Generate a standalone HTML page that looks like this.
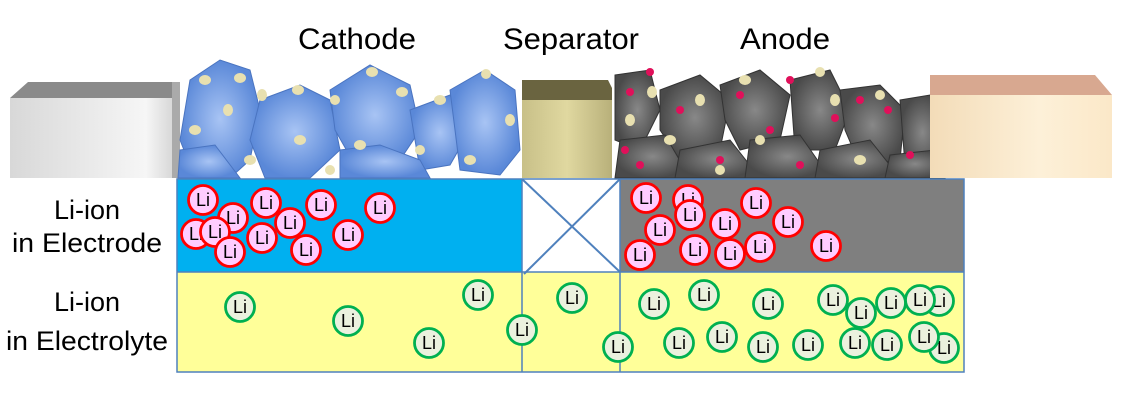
<!DOCTYPE html>
<html><head><meta charset="utf-8"><style>
html,body{margin:0;padding:0;background:#fff;}
svg{display:block;}
text{font-family:"Liberation Sans",sans-serif;}
</style></head><body>
<svg width="1122" height="402" viewBox="0 0 1122 402" xmlns="http://www.w3.org/2000/svg">
<defs>
<linearGradient id="gr" x1="0" x2="1"><stop offset="0" stop-color="#d8d8d8"/><stop offset="0.8" stop-color="#f6f6f6"/><stop offset="1" stop-color="#cfcfcf"/></linearGradient>
<linearGradient id="cu" x1="0" x2="1"><stop offset="0" stop-color="#f3dcb8"/><stop offset="0.6" stop-color="#fdf0d8"/><stop offset="1" stop-color="#fbe8c8"/></linearGradient>
<linearGradient id="sep" x1="0" x2="1"><stop offset="0" stop-color="#c8c088"/><stop offset="0.5" stop-color="#e0d8a0"/><stop offset="1" stop-color="#b8b07a"/></linearGradient>
<radialGradient id="bl"><stop offset="0" stop-color="#a8c4f4"/><stop offset="1" stop-color="#5a88d8"/></radialGradient>
<radialGradient id="dk"><stop offset="0" stop-color="#888"/><stop offset="1" stop-color="#4a4a4a"/></radialGradient>
</defs>
<text x="298" y="49" font-size="30" textLength="118" lengthAdjust="spacingAndGlyphs">Cathode</text>
<text x="503" y="49" font-size="30" textLength="136" lengthAdjust="spacingAndGlyphs">Separator</text>
<text x="740" y="49" font-size="30" textLength="90" lengthAdjust="spacingAndGlyphs">Anode</text>
<!-- gray current collector -->
<polygon points="10,98 28,82 180,82 180,98" fill="#8a8a8a"/>
<rect x="10" y="98" width="170" height="80" fill="url(#gr)"/>
<rect x="172" y="82" width="8" height="96" fill="#aaa"/>
<!-- cathode particles -->
<g fill="url(#bl)" stroke="#4a74c0" stroke-width="1">
<polygon points="190,80 220,60 250,70 260,110 250,160 230,178 195,178 180,140"/>
<polygon points="260,100 300,85 330,100 340,150 310,178 265,178 250,140"/>
<polygon points="330,90 370,65 410,85 420,130 400,160 355,165 335,130"/>
<polygon points="410,110 450,95 470,130 450,165 420,170"/>
<polygon points="450,90 485,70 515,90 520,150 500,175 460,170"/>
<polygon points="340,150 380,145 420,160 430,178 340,178"/>
<polygon points="180,150 215,145 240,178 178,178"/>
</g>
<g fill="#e8e0b0">
<ellipse cx="205" cy="80" rx="6" ry="5"/><ellipse cx="240" cy="78" rx="6" ry="5"/><ellipse cx="262" cy="95" rx="5" ry="6"/><ellipse cx="228" cy="110" rx="5" ry="6"/><ellipse cx="298" cy="90" rx="6" ry="5"/><ellipse cx="335" cy="100" rx="5" ry="5"/><ellipse cx="372" cy="72" rx="6" ry="5"/><ellipse cx="402" cy="92" rx="6" ry="5"/><ellipse cx="440" cy="100" rx="6" ry="5"/><ellipse cx="486" cy="74" rx="5" ry="5"/><ellipse cx="510" cy="120" rx="5" ry="6"/><ellipse cx="195" cy="130" rx="6" ry="5"/><ellipse cx="300" cy="140" rx="6" ry="5"/><ellipse cx="360" cy="145" rx="6" ry="5"/><ellipse cx="420" cy="150" rx="5" ry="5"/><ellipse cx="470" cy="160" rx="6" ry="5"/><ellipse cx="250" cy="160" rx="6" ry="5"/><ellipse cx="330" cy="170" rx="5" ry="5"/>
</g>
<!-- separator -->
<polygon points="522,80 608,80 612,88 612,100 522,100" fill="#6a6440"/>
<rect x="522" y="100" width="90" height="78" fill="url(#sep)"/>
<!-- anode -->
<rect x="612" y="70" width="330" height="108" fill="#fff"/>
<g fill="url(#dk)" stroke="#333" stroke-width="1">
<polygon points="615,75 650,70 660,110 640,150 615,140"/>
<polygon points="660,90 700,75 730,100 720,150 680,160 660,130"/>
<polygon points="720,85 760,70 790,95 780,140 740,150 725,120"/>
<polygon points="790,80 830,70 850,110 835,150 795,150"/>
<polygon points="840,90 880,85 905,110 900,160 860,165 845,130"/>
<polygon points="900,100 930,95 945,130 930,170 905,165"/>
<polygon points="620,140 665,135 690,178 615,178"/>
<polygon points="680,150 730,140 760,178 675,178"/>
<polygon points="750,140 800,135 830,178 745,178"/>
<polygon points="820,150 870,140 900,178 815,178"/>
<polygon points="890,155 935,150 945,178 885,178"/>
</g>
<g fill="#e8e0b0">
<ellipse cx="652" cy="92" rx="5" ry="6"/><ellipse cx="700" cy="100" rx="5" ry="6"/><ellipse cx="745" cy="80" rx="6" ry="5"/><ellipse cx="820" cy="72" rx="5" ry="5"/><ellipse cx="835" cy="100" rx="5" ry="6"/><ellipse cx="880" cy="95" rx="5" ry="5"/><ellipse cx="945" cy="130" rx="5" ry="6"/><ellipse cx="670" cy="140" rx="6" ry="5"/><ellipse cx="760" cy="140" rx="5" ry="5"/><ellipse cx="860" cy="160" rx="6" ry="5"/><ellipse cx="720" cy="170" rx="5" ry="5"/><ellipse cx="630" cy="120" rx="5" ry="6"/>
</g>
<g fill="#e0105a">
<circle cx="650" cy="72" r="4"/><circle cx="630" cy="92" r="4"/><circle cx="740" cy="95" r="4"/><circle cx="790" cy="80" r="4"/><circle cx="835" cy="118" r="4"/><circle cx="888" cy="110" r="4"/><circle cx="640" cy="165" r="4"/><circle cx="680" cy="110" r="4"/><circle cx="720" cy="160" r="4"/><circle cx="800" cy="165" r="4"/><circle cx="860" cy="100" r="4"/><circle cx="910" cy="155" r="4"/><circle cx="625" cy="150" r="4"/><circle cx="770" cy="130" r="4"/>
</g>
<!-- copper -->
<polygon points="930,75 1095,75 1112,95 930,95" fill="#d8a890"/>
<rect x="930" y="95" width="182" height="83" fill="url(#cu)"/>
<!-- table -->
<rect x="177" y="179" width="345" height="93" fill="#00b0f0"/>
<rect x="522" y="179" width="98" height="93" fill="#fff"/>
<rect x="620" y="179" width="344" height="93" fill="#7f7f7f"/>
<rect x="177" y="272" width="787" height="100" fill="#ffff99"/>
<g stroke="#4f81bd" stroke-width="1.5" fill="none">
<rect x="177" y="179" width="787" height="193"/>
<line x1="177" y1="272" x2="964" y2="272"/>
<line x1="522" y1="179" x2="522" y2="372"/>
<line x1="620" y1="179" x2="620" y2="372"/>
<line x1="522" y1="179" x2="620" y2="272" stroke-width="2"/>
<line x1="620" y1="179" x2="524" y2="274" stroke-width="2"/>
</g>
<text x="87" y="219" font-size="27" text-anchor="middle">Li-ion</text>
<text x="87" y="252" font-size="27" text-anchor="middle" textLength="150" lengthAdjust="spacingAndGlyphs">in Electrode</text>
<text x="87" y="311" font-size="27" text-anchor="middle">Li-ion</text>
<text x="87" y="350" font-size="27" text-anchor="middle" textLength="162" lengthAdjust="spacingAndGlyphs">in Electrolyte</text>
<g fill="#ffccff" stroke="#ff0000" stroke-width="2.8" font-size="18" text-anchor="middle">
<g><circle cx="233" cy="218" r="14.5"/><text x="233" y="224" fill="#000" stroke="none">Li</text></g>
<g><circle cx="196" cy="234" r="14.5"/><text x="196" y="240" fill="#000" stroke="none">Li</text></g>
<g><circle cx="203" cy="200" r="14.5"/><text x="203" y="206" fill="#000" stroke="none">Li</text></g>
<g><circle cx="215" cy="232" r="14.5"/><text x="215" y="238" fill="#000" stroke="none">Li</text></g>
<g><circle cx="230" cy="252" r="14.5"/><text x="230" y="258" fill="#000" stroke="none">Li</text></g>
<g><circle cx="266" cy="203" r="14.5"/><text x="266" y="209" fill="#000" stroke="none">Li</text></g>
<g><circle cx="290" cy="223" r="14.5"/><text x="290" y="229" fill="#000" stroke="none">Li</text></g>
<g><circle cx="262" cy="238" r="14.5"/><text x="262" y="244" fill="#000" stroke="none">Li</text></g>
<g><circle cx="321" cy="205" r="14.5"/><text x="321" y="211" fill="#000" stroke="none">Li</text></g>
<g><circle cx="306" cy="250" r="14.5"/><text x="306" y="256" fill="#000" stroke="none">Li</text></g>
<g><circle cx="348" cy="235" r="14.5"/><text x="348" y="241" fill="#000" stroke="none">Li</text></g>
<g><circle cx="380" cy="208" r="14.5"/><text x="380" y="214" fill="#000" stroke="none">Li</text></g>
<g><circle cx="646" cy="198" r="14.5"/><text x="646" y="204" fill="#000" stroke="none">Li</text></g>
<g><circle cx="688" cy="200" r="14.5"/><text x="688" y="206" fill="#000" stroke="none">Li</text></g>
<g><circle cx="690" cy="215" r="14.5"/><text x="690" y="221" fill="#000" stroke="none">Li</text></g>
<g><circle cx="660" cy="230" r="14.5"/><text x="660" y="236" fill="#000" stroke="none">Li</text></g>
<g><circle cx="725" cy="224" r="14.5"/><text x="725" y="230" fill="#000" stroke="none">Li</text></g>
<g><circle cx="756" cy="203" r="14.5"/><text x="756" y="209" fill="#000" stroke="none">Li</text></g>
<g><circle cx="788" cy="222" r="14.5"/><text x="788" y="228" fill="#000" stroke="none">Li</text></g>
<g><circle cx="640" cy="255" r="14.5"/><text x="640" y="261" fill="#000" stroke="none">Li</text></g>
<g><circle cx="695" cy="250" r="14.5"/><text x="695" y="256" fill="#000" stroke="none">Li</text></g>
<g><circle cx="730" cy="254" r="14.5"/><text x="730" y="260" fill="#000" stroke="none">Li</text></g>
<g><circle cx="760" cy="247" r="14.5"/><text x="760" y="253" fill="#000" stroke="none">Li</text></g>
<g><circle cx="826" cy="246" r="14.5"/><text x="826" y="252" fill="#000" stroke="none">Li</text></g>
</g>
<g fill="#ebf1de" stroke="#00b050" stroke-width="2.8" font-size="18" text-anchor="middle">
<g><circle cx="240" cy="307" r="14.5"/><text x="240" y="313" fill="#000" stroke="none">Li</text></g>
<g><circle cx="348" cy="321" r="14.5"/><text x="348" y="327" fill="#000" stroke="none">Li</text></g>
<g><circle cx="429" cy="343" r="14.5"/><text x="429" y="349" fill="#000" stroke="none">Li</text></g>
<g><circle cx="478" cy="295" r="14.5"/><text x="478" y="301" fill="#000" stroke="none">Li</text></g>
<g><circle cx="522" cy="330" r="14.5"/><text x="522" y="336" fill="#000" stroke="none">Li</text></g>
<g><circle cx="572" cy="298" r="14.5"/><text x="572" y="304" fill="#000" stroke="none">Li</text></g>
<g><circle cx="618" cy="347" r="14.5"/><text x="618" y="353" fill="#000" stroke="none">Li</text></g>
<g><circle cx="654" cy="304" r="14.5"/><text x="654" y="310" fill="#000" stroke="none">Li</text></g>
<g><circle cx="704" cy="295" r="14.5"/><text x="704" y="301" fill="#000" stroke="none">Li</text></g>
<g><circle cx="768" cy="304" r="14.5"/><text x="768" y="310" fill="#000" stroke="none">Li</text></g>
<g><circle cx="833" cy="300" r="14.5"/><text x="833" y="306" fill="#000" stroke="none">Li</text></g>
<g><circle cx="861" cy="313" r="14.5"/><text x="861" y="319" fill="#000" stroke="none">Li</text></g>
<g><circle cx="891" cy="303" r="14.5"/><text x="891" y="309" fill="#000" stroke="none">Li</text></g>
<g><circle cx="939" cy="301" r="14.5"/><text x="939" y="307" fill="#000" stroke="none">Li</text></g>
<g><circle cx="920" cy="300" r="14.5"/><text x="920" y="306" fill="#000" stroke="none">Li</text></g>
<g><circle cx="679" cy="343" r="14.5"/><text x="679" y="349" fill="#000" stroke="none">Li</text></g>
<g><circle cx="722" cy="337" r="14.5"/><text x="722" y="343" fill="#000" stroke="none">Li</text></g>
<g><circle cx="763" cy="347" r="14.5"/><text x="763" y="353" fill="#000" stroke="none">Li</text></g>
<g><circle cx="808" cy="345" r="14.5"/><text x="808" y="351" fill="#000" stroke="none">Li</text></g>
<g><circle cx="855" cy="343" r="14.5"/><text x="855" y="349" fill="#000" stroke="none">Li</text></g>
<g><circle cx="887" cy="345" r="14.5"/><text x="887" y="351" fill="#000" stroke="none">Li</text></g>
<g><circle cx="944" cy="348" r="14.5"/><text x="944" y="354" fill="#000" stroke="none">Li</text></g>
<g><circle cx="924" cy="337" r="14.5"/><text x="924" y="343" fill="#000" stroke="none">Li</text></g>
</g>
</svg>
</body></html>
